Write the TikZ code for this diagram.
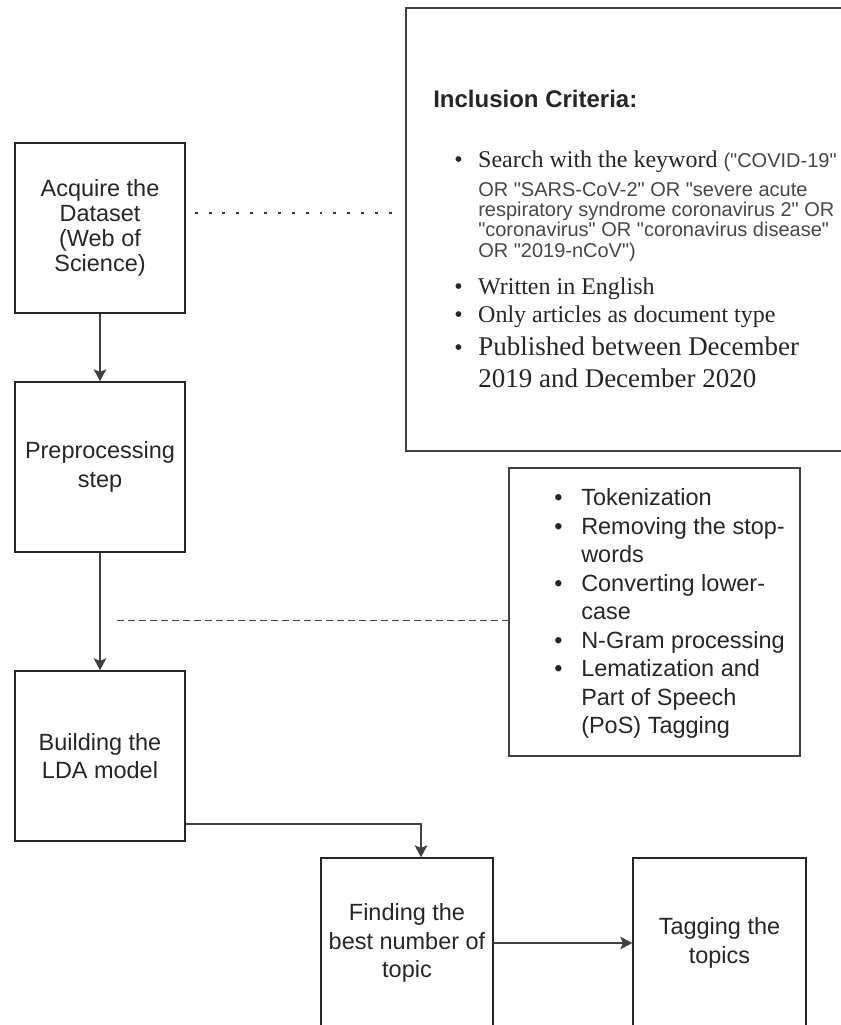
\documentclass[tikz,border=0pt]{standalone}
\usepackage{fontspec}
\setmainfont{Liberation Serif}
\setsansfont{Liberation Sans}
\newfontfamily\plainsans{Liberation Sans}[Ligatures=TeXOff]
\usetikzlibrary{arrows.meta,calc}
\tikzset{
  stepbox/.style={draw=black!85, line width=1.1pt, minimum width=127.5pt, minimum height=127.5pt,
    inner sep=0pt, align=center, text=black!85,
    font=\sffamily\fontsize{17.6pt}{21.4pt}\selectfont},
  framebox/.style={draw=black!75, line width=1.3pt, inner sep=0pt, anchor=north west},
  conn/.style={draw=black!75, line width=1.2pt, -{Stealth[length=9pt,width=9.5pt,inset=2pt]}},
  dotline/.style={draw=black!80, line width=2.2pt, dash pattern=on 2.2pt off 8.2pt},
  dashline/.style={draw=black!75, line width=1.1pt, dash pattern=on 5.25pt off 3pt},
  txt/.style={anchor=base west, inner sep=0pt, text=black!85},
  serif/.style={font=\rmfamily\fontsize{18pt}{21pt}\selectfont},
  small/.style={font=\plainsans\fontsize{15pt}{18pt}\selectfont, text=black!72},
}
\newcommand{\bl}{\llap{\makebox[18pt][l]{\rmfamily\fontsize{18pt}{21pt}\selectfont\textbullet}}}
\begin{document}
\begin{tikzpicture}[x=0.75pt,y=-0.75pt]
\path[use as bounding box] (0,0) rectangle (841,1025);
\clip (0,0) rectangle (841,1025);

% main flow boxes
\node[stepbox, font=\sffamily\fontsize{17.6pt}{18.75pt}\selectfont] (A) at (100,228)
  {Acquire the\\Dataset\\(Web of\\Science)};
\node[stepbox] (P) at (100,467) {Preprocessing\\step};
\node[stepbox] (L) at (100,756) {Building the\\LDA model};
\node[stepbox, minimum width=129pt] (F) at (407,943) {Finding the\\best number of\\topic};
\node[stepbox, minimum width=129.75pt] (T) at (719.5,943) {Tagging the\\topics};

% inclusion criteria box
\node[framebox, minimum width=333.75pt, minimum height=332.25pt] (inc) at (405,7) {};
\node[txt, font=\sffamily\bfseries\fontsize{18pt}{21pt}\selectfont] (inc0) at (433,107) {Inclusion Criteria:};
\node[txt, serif] (inc1) at (478,167) {\bl Search with the keyword {\plainsans\fontsize{15pt}{18pt}\selectfont\color{black!72} ("COVID-19"}};
\node[txt, small] (inc2) at (478,196) {OR "SARS-CoV-2" OR "severe acute};
\node[txt, small] (inc3) at (478,216) {respiratory syndrome coronavirus 2" OR};
\node[txt, small] (inc4) at (478,236) {"coronavirus" OR "coronavirus disease"};
\node[txt, small] (inc5) at (478,257) {OR "2019-nCoV")};
\node[txt, serif] (inc6) at (478,294) {\bl Written in English};
\node[txt, serif] (inc7) at (478,322) {\bl Only articles as document type};
\node[txt, font=\rmfamily\fontsize{20.25pt}{24pt}\selectfont] (inc8) at (478,355) {\bl Published between December};
\node[txt, font=\rmfamily\fontsize{20.25pt}{24pt}\selectfont] (inc9) at (478,387) {2019 and December 2020};

% preprocessing list box
\node[framebox, minimum width=218.25pt, minimum height=216pt] (pre) at (508,467) {};
\node[txt, font=\sffamily\fontsize{17.6pt}{21.4pt}\selectfont] (prelist) at (554,505.5)
 {\begin{tabular}[t]{@{}p{20.25pt}@{}l@{}}
  \textbullet & Tokenization\\
  \textbullet & Removing the stop-\\
   & words\\
  \textbullet & Converting lower-\\
   & case\\
  \textbullet & N-Gram processing\\
  \textbullet & Lematization and\\
   & Part of Speech\\
   & (PoS) Tagging
 \end{tabular}};

% connectors
\draw[conn] (A.south) -- (P.north);
\draw[conn] (P.south) -- (L.north);
\coordinate (c1) at (421,824);
\draw[conn] (L.east |- c1) -| (F.north -| c1);
\draw[conn] (F.east) -- (T.west);

% dotted link
\coordinate (d1) at ($(A.east)+(9,-15)$);
\coordinate (d2) at ($(inc.west |- d1)+(-13,0)$);
\draw[dotline] (d1) -- (d2);

% dashed link
\coordinate (dl) at ($(P.south)+(17,68)$);
\draw[dashline] (dl) -- (pre.west |- dl);
\end{tikzpicture}
\end{document}
